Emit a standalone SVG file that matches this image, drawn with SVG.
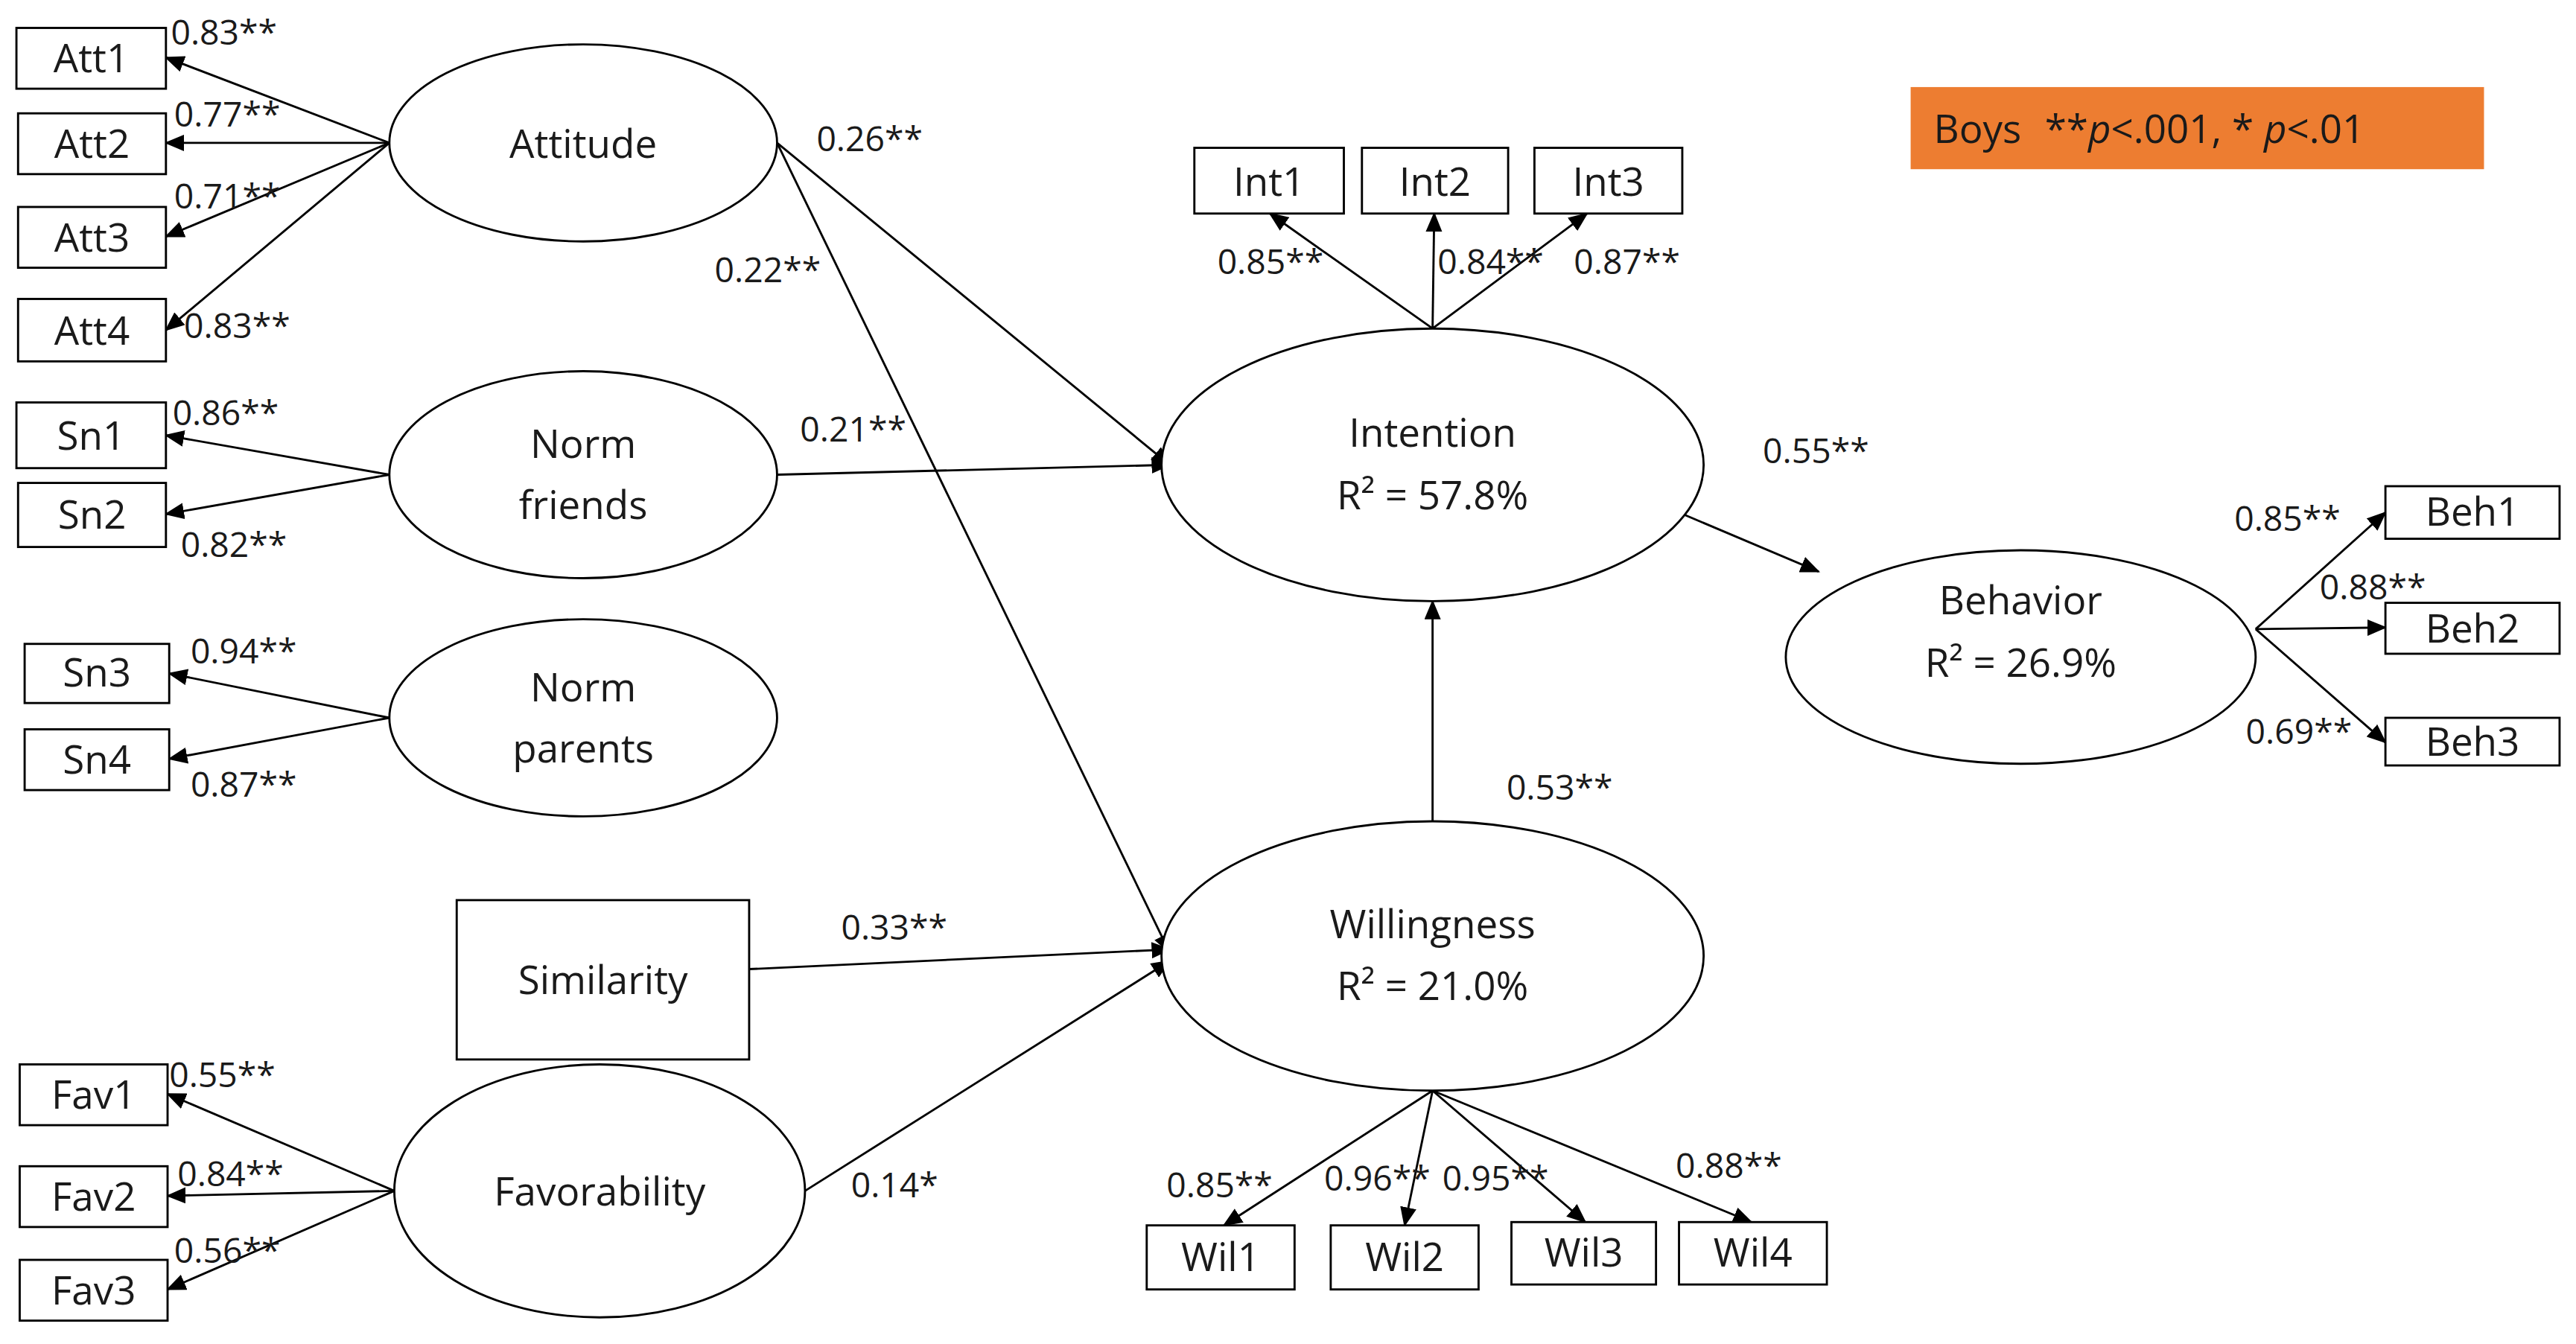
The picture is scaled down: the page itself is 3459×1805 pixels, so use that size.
<svg xmlns="http://www.w3.org/2000/svg" width="3459" height="1805" viewBox="0 0 3459 1805">
<style>
.n{fill:#fff;stroke:#000;stroke-width:1.3}
.t{font-family:"Open Sans","Liberation Sans",sans-serif;font-size:24px;fill:#1a1a1a;text-anchor:middle}
.l{font-family:"Open Sans","Liberation Sans",sans-serif;font-size:21px;fill:#1a1a1a}
.c line{stroke:#000;stroke-width:1.3;marker-end:url(#a)}
</style>
<defs><marker id="a" markerUnits="userSpaceOnUse" markerWidth="12" markerHeight="10" refX="11" refY="5" orient="auto"><path d="M0,0 L12,5 L0,10 Z" fill="#000"/></marker></defs>
<rect width="3459" height="1805" fill="#fff"/>
<g transform="scale(2.206)">
<g id="legend"><rect x="1163" y="53" width="349" height="50" fill="#ED7D31"/><text x="1177" y="87" class="l" style="font-size:24px">Boys <tspan dx="8">**</tspan><tspan font-style="italic">p</tspan>&lt;.001, * <tspan font-style="italic">p</tspan>&lt;.01</text></g>
<g class="c" id="connectors">
<line x1="237" y1="87" x2="101" y2="35"/><line x1="237" y1="87" x2="101" y2="87"/><line x1="237" y1="87" x2="101" y2="144"/><line x1="237" y1="87" x2="101" y2="201"/>
<line x1="237" y1="289" x2="101" y2="265"/><line x1="237" y1="289" x2="101" y2="313"/>
<line x1="237" y1="437" x2="103" y2="410"/><line x1="237" y1="437" x2="103" y2="462"/>
<line x1="240" y1="725" x2="102" y2="666"/><line x1="240" y1="725" x2="102" y2="728"/><line x1="240" y1="725" x2="102" y2="785"/>
<line x1="473" y1="87" x2="712" y2="283"/><line x1="473" y1="87" x2="712" y2="580"/>
<line x1="473" y1="289" x2="712" y2="283"/>
<line x1="456" y1="590" x2="712" y2="578"/>
<line x1="490" y1="725" x2="712" y2="585"/>
<line x1="872" y1="500" x2="872" y2="366"/>
<line x1="872" y1="200" x2="773" y2="130"/><line x1="872" y1="200" x2="873" y2="130"/><line x1="872" y1="200" x2="966" y2="130"/>
<line x1="1022" y1="312" x2="1107" y2="348"/>
<line x1="1373" y1="383" x2="1452" y2="312"/><line x1="1373" y1="383" x2="1452" y2="382"/><line x1="1373" y1="383" x2="1452" y2="452"/>
<line x1="872" y1="664" x2="745" y2="746"/><line x1="872" y1="664" x2="855" y2="746"/><line x1="872" y1="664" x2="965" y2="744"/><line x1="872" y1="664" x2="1066" y2="744"/>
</g>
<g id="Att1"><rect class="n" x="10" y="17" width="91" height="37"/><text class="t" x="55.5" y="44">Att1</text></g>
<g id="Att2"><rect class="n" x="11" y="69" width="90" height="37"/><text class="t" x="56" y="96">Att2</text></g>
<g id="Att3"><rect class="n" x="11" y="126" width="90" height="37"/><text class="t" x="56" y="153">Att3</text></g>
<g id="Att4"><rect class="n" x="11" y="182" width="90" height="38"/><text class="t" x="56" y="210">Att4</text></g>
<g id="Sn1"><rect class="n" x="10" y="245" width="91" height="40"/><text class="t" x="55.5" y="274">Sn1</text></g>
<g id="Sn2"><rect class="n" x="11" y="294" width="90" height="39"/><text class="t" x="56" y="322">Sn2</text></g>
<g id="Sn3"><rect class="n" x="15" y="392" width="88" height="36"/><text class="t" x="59" y="418">Sn3</text></g>
<g id="Sn4"><rect class="n" x="15" y="444" width="88" height="37"/><text class="t" x="59" y="471">Sn4</text></g>
<g id="Fav1"><rect class="n" x="12" y="648" width="90" height="37"/><text class="t" x="57" y="675">Fav1</text></g>
<g id="Fav2"><rect class="n" x="12" y="710" width="90" height="37"/><text class="t" x="57" y="737">Fav2</text></g>
<g id="Fav3"><rect class="n" x="12" y="767" width="90" height="37"/><text class="t" x="57" y="794">Fav3</text></g>
<g id="Attitude"><ellipse class="n" cx="355" cy="87" rx="118" ry="60"/><text class="t" x="355" y="96">Attitude</text></g>
<g id="NormFriends"><ellipse class="n" cx="355" cy="289" rx="118" ry="63"/><text class="t" x="355" y="279">Norm</text><text class="t" x="355" y="316">friends</text></g>
<g id="NormParents"><ellipse class="n" cx="355" cy="437" rx="118" ry="60"/><text class="t" x="355" y="427">Norm</text><text class="t" x="355" y="464">parents</text></g>
<g id="Similarity"><rect class="n" x="278" y="548" width="178" height="97"/><text class="t" x="367" y="605">Similarity</text></g>
<g id="Favorability"><ellipse class="n" cx="365" cy="725" rx="125" ry="77"/><text class="t" x="365" y="734">Favorability</text></g>
<g id="Intention"><ellipse class="n" cx="872" cy="283" rx="165" ry="83"/><text class="t" x="872" y="272">Intention</text><text class="t" x="872" y="310">R² = 57.8%</text></g>
<g id="Int1"><rect class="n" x="727" y="90" width="91" height="40"/><text class="t" x="772.5" y="119">Int1</text></g>
<g id="Int2"><rect class="n" x="829" y="90" width="89" height="40"/><text class="t" x="873.5" y="119">Int2</text></g>
<g id="Int3"><rect class="n" x="934" y="90" width="90" height="40"/><text class="t" x="979" y="119">Int3</text></g>
<g id="Behavior"><ellipse class="n" cx="1230" cy="400" rx="143" ry="65"/><text class="t" x="1230" y="374">Behavior</text><text class="t" x="1230" y="412">R² = 26.9%</text></g>
<g id="Beh1"><rect class="n" x="1452" y="296" width="106" height="32"/><text class="t" x="1505" y="320">Beh1</text></g>
<g id="Beh2"><rect class="n" x="1452" y="367" width="106" height="31"/><text class="t" x="1505" y="391">Beh2</text></g>
<g id="Beh3"><rect class="n" x="1452" y="437" width="106" height="29"/><text class="t" x="1505" y="460">Beh3</text></g>
<g id="Willingness"><ellipse class="n" cx="872" cy="582" rx="165" ry="82"/><text class="t" x="872" y="571">Willingness</text><text class="t" x="872" y="609">R² = 21.0%</text></g>
<g id="Wil1"><rect class="n" x="698" y="746" width="90" height="39"/><text class="t" x="743" y="774">Wil1</text></g>
<g id="Wil2"><rect class="n" x="810" y="746" width="90" height="39"/><text class="t" x="855" y="774">Wil2</text></g>
<g id="Wil3"><rect class="n" x="920" y="744" width="88" height="38"/><text class="t" x="964" y="771">Wil3</text></g>
<g id="Wil4"><rect class="n" x="1022" y="744" width="90" height="38"/><text class="t" x="1067" y="771">Wil4</text></g>
<g id="labels">
<text class="l" x="104" y="27">0.83**</text><text class="l" x="106" y="77">0.77**</text><text class="l" x="106" y="127">0.71**</text><text class="l" x="112" y="206">0.83**</text>
<text class="l" x="105" y="259">0.86**</text><text class="l" x="110" y="339">0.82**</text>
<text class="l" x="116" y="404">0.94**</text><text class="l" x="116" y="485">0.87**</text>
<text class="l" x="103" y="662">0.55**</text><text class="l" x="108" y="722">0.84**</text><text class="l" x="106" y="769">0.56**</text>
<text class="l" x="497" y="92">0.26**</text><text class="l" x="435" y="172">0.22**</text><text class="l" x="487" y="269">0.21**</text>
<text class="l" x="512" y="572">0.33**</text><text class="l" x="518" y="729">0.14*</text><text class="l" x="917" y="487">0.53**</text>
<text class="l" x="741" y="167">0.85**</text><text class="l" x="875" y="167">0.84**</text><text class="l" x="958" y="167">0.87**</text>
<text class="l" x="1073" y="282">0.55**</text>
<text class="l" x="1360" y="323">0.85**</text><text class="l" x="1412" y="365">0.88**</text><text class="l" x="1367" y="453">0.69**</text>
<text class="l" x="710" y="729">0.85**</text><text class="l" x="806" y="725">0.96**</text><text class="l" x="878" y="725">0.95**</text><text class="l" x="1020" y="717">0.88**</text>
</g>
</g>
</svg>
